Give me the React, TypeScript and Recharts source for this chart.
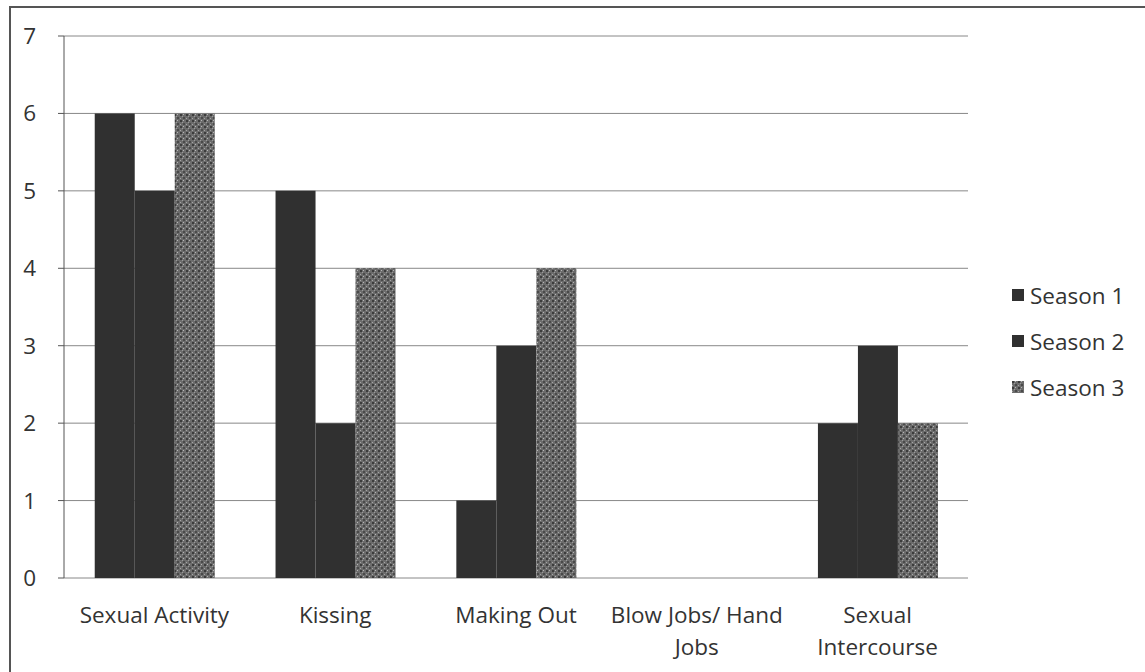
import React from "react"
import { Bar, BarChart, CartesianGrid, Legend, XAxis, YAxis } from "recharts"

// values
const categories = [
  "Sexual Activity",
  "Kissing",
  "Making Out",
  "Blow Jobs/ Hand Jobs",
  "Sexual Intercourse",
]
const season1 = [6, 5, 1, 0, 2]
const season2 = [5, 2, 3, 0, 3]
const season3 = [6, 4, 4, 0, 2]
const yTicks = [0, 1, 2, 3, 4, 5, 6, 7]
const categoryEdges = [0, 1, 2, 3, 4, 5]

const seriesNames = ["Season 1", "Season 2", "Season 3"]

const data = categories.map((name, i) => ({
  name,
  s1: season1[i],
  s2: season2[i],
  s3: season3[i],
}))

const FONT = "'Open Sans', Lato, sans-serif"
const FONT_SIZE = 22.5
const DARK = "#303030"

// break long labels the way the original did (about 16 chars per line)
const wrapLabel = (label: string, max = 16) => {
  const lines: string[] = []
  let cur = ""
  label.split(" ").forEach((w) => {
    const next = cur ? cur + " " + w : w
    if (next.length > max && cur) {
      lines.push(cur)
      cur = w
    } else {
      cur = next
    }
  })
  if (cur) lines.push(cur)
  return lines
}

const CategoryTick = (props: any) => {
  const { x, y, payload } = props
  const lines = wrapLabel(payload.value)
  return (
    <text
      x={x}
      y={y + 37}
      textAnchor="middle"
      fontSize={FONT_SIZE}
      fontFamily={FONT}
      fill="#333"
    >
      {lines.map((l, i) => (
        <tspan key={i} x={x} dy={i === 0 ? 0 : 32}>
          {l}
        </tspan>
      ))}
    </text>
  )
}

const LegendBox = () => {
  const fills = [DARK, DARK, "url(#season3Pattern)"]
  return (
    <div style={{ fontFamily: FONT, fontSize: FONT_SIZE, color: "#333" }}>
      {seriesNames.map((s, i) => (
        <div key={s} style={{ display: "flex", alignItems: "center", height: 46 }}>
          <svg width={12} height={12} style={{ marginRight: 6 }}>
            <rect width={12} height={12} fill={fills[i]} />
          </svg>
          <span>{s}</span>
        </div>
      ))}
    </div>
  )
}

export default function App() {
  return (
    <div
      style={{
        position: "absolute",
        left: 0,
        top: 0,
        width: 1145,
        height: 672,
        background: "white",
        overflow: "hidden",
      }}
    >
      {/* frame of the scanned figure */}
      <div
        style={{
          position: "absolute",
          left: 9,
          top: 6,
          width: 1140,
          height: 700,
          borderTop: "2px solid #555",
          borderLeft: "2px solid #555",
        }}
      />
      <svg width={0} height={0} style={{ position: "absolute" }}>
        <defs>
          <pattern id="season3Pattern" width={6} height={6} patternUnits="userSpaceOnUse">
            <rect width={6} height={6} fill="#6c6c6c" />
            <rect x={0} y={0} width={2} height={2} fill="#3c3c3c" />
            <rect x={3} y={3} width={2} height={2} fill="#4a4a4a" />
            <rect x={3} y={0} width={1} height={1} fill="#b5b5b5" />
            <rect x={0} y={4} width={1} height={1} fill="#a5a5a5" />
            <rect x={2} y={2} width={1} height={1} fill="#999" />
          </pattern>
        </defs>
      </svg>
      <div style={{ position: "absolute", left: 0, top: 0 }}>
        <BarChart
          width={1145}
          height={672}
          data={data}
          margin={{ top: 36, right: 44, left: 0, bottom: 0 }}
          barCategoryGap="17%"
          barGap={0}
        >
          <CartesianGrid vertical={false} stroke="#888" strokeWidth={1} />
          {/* tick marks sit between the categories, as in the original */}
          <XAxis
            xAxisId="edges"
            type="number"
            domain={[0, 5]}
            ticks={categoryEdges}
            height={0}
            stroke="#555"
            tickSize={6}
            tickFormatter={() => ""}
          />
          <XAxis
            dataKey="name"
            height={94}
            interval={0}
            axisLine={false}
            tickLine={false}
            tick={<CategoryTick />}
          />
          <YAxis
            width={64}
            domain={[0, 7]}
            ticks={yTicks}
            stroke="#555"
            tickSize={6}
            tick={{ fontSize: FONT_SIZE, fontFamily: FONT, fill: "#333", dx: -20 }}
          />
          <Legend
            layout="vertical"
            align="right"
            verticalAlign="top"
            wrapperStyle={{ left: 1012, top: 272, width: 133 }}
            content={<LegendBox />}
          />
          <Bar dataKey="s1" name="Season 1" fill={DARK} isAnimationActive={false} />
          <Bar dataKey="s2" name="Season 2" fill={DARK} isAnimationActive={false} />
          <Bar
            dataKey="s3"
            name="Season 3"
            fill="url(#season3Pattern)"
            isAnimationActive={false}
          />
        </BarChart>
      </div>
    </div>
  )
}
